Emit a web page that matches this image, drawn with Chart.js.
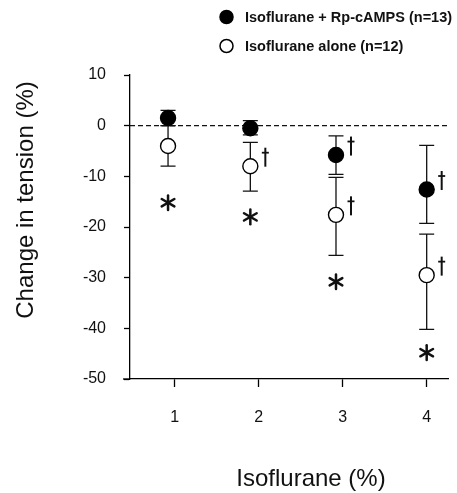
<!DOCTYPE html>
<html>
<head>
<meta charset="utf-8">
<script src="https://cdn.jsdelivr.net/npm/chart.js@4.4.0/dist/chart.umd.min.js"></script>
<style>
    html, body { margin: 0; padding: 0; background: #fff; }
    #wrap { width: 457px; height: 493px; }
</style>
</head>
<body>
<div id="wrap"><canvas id="chart" width="457" height="493"></canvas></div>
<script>
// Isoflurane concentration (%) - x tick labels
const doses = [1, 2, 3, 4];
// where the symbols sit on the original figure (a bit left of the ticks)
const plotX = [0.92, 1.9, 2.92, 4.0];

const seriesLabels = ['Isoflurane + Rp-cAMPS (n=13)', 'Isoflurane alone (n=12)'];

// Isoflurane + Rp-cAMPS: mean, top and bottom of error bar
const rpMean = [1.5, -0.5, -5.8, -12.6];
const rpHigh = [3.0, 1.0, -2.0, -3.9];
const rpLow = [0.0, -1.8, -9.6, -19.3];
const rpDagger = [false, false, true, true];

// Isoflurane alone
const aloneMean = [-4.0, -8.0, -17.6, -29.5];
const aloneHigh = [0.0, -3.3, -10.2, -21.4];
const aloneLow = [-8.0, -12.9, -25.6, -40.2];
const aloneDagger = [false, true, true, true];

// asterisks under each group
const starY = [-15.2, -18.0, -30.8, -44.8];

const yTicks = [10, 0, -10, -20, -30, -40, -50];

const FONT = "'Liberation Sans', Arial, Helvetica, sans-serif";
const INK = '#111';

document.addEventListener('DOMContentLoaded', function() {
    drawChart();
});

function drawErrorBars(ctx, xs, ys, means, highs, lows) {
    const capHalf = 7.5;
    ctx.save();
    ctx.strokeStyle = INK;
    ctx.lineWidth = 1.3;
    means.forEach((m, i) => {
        const x = xs.getPixelForValue(plotX[i]);
        const yHi = ys.getPixelForValue(highs[i]);
        const yLo = ys.getPixelForValue(lows[i]);
        ctx.beginPath();
        ctx.moveTo(x, yHi);
        ctx.lineTo(x, yLo);
        ctx.moveTo(x - capHalf, yHi);
        ctx.lineTo(x + capHalf, yHi);
        ctx.moveTo(x - capHalf, yLo);
        ctx.lineTo(x + capHalf, yLo);
        ctx.stroke();
    });
    ctx.restore();
}

// dagger drawn as a little cross: tall stem, short bar near the top
function drawDagger(ctx, x, y) {
    ctx.save();
    ctx.strokeStyle = INK;
    ctx.lineCap = 'butt';
    ctx.lineWidth = 2;
    ctx.beginPath();
    ctx.moveTo(x, y - 9.5);
    ctx.lineTo(x, y + 9.5);
    ctx.stroke();
    ctx.lineWidth = 1.8;
    ctx.beginPath();
    ctx.moveTo(x - 3.5, y - 4.5);
    ctx.lineTo(x + 3.5, y - 4.5);
    ctx.stroke();
    ctx.restore();
}

function drawDaggers(ctx, xs, ys, means, flags) {
    means.forEach((m, i) => {
        if (!flags[i]) return;
        const x = xs.getPixelForValue(plotX[i]);
        const y = ys.getPixelForValue(m);
        drawDagger(ctx, x + 15, y - 9);
    });
}

function drawStar(ctx, x, y, r) {
    ctx.save();
    ctx.strokeStyle = INK;
    ctx.lineWidth = 2.5;
    ctx.lineCap = 'round';
    [90, 30, 150].forEach(deg => {
        const a = deg * Math.PI / 180;
        ctx.beginPath();
        ctx.moveTo(x - r * Math.cos(a), y - r * Math.sin(a));
        ctx.lineTo(x + r * Math.cos(a), y + r * Math.sin(a));
        ctx.stroke();
    });
    ctx.restore();
}

const figureExtras = {
    id: 'figureExtras',
    beforeDatasetsDraw(chart) {
        const { ctx, chartArea, scales: { x, y } } = chart;
        // dashed zero line
        ctx.save();
        ctx.strokeStyle = INK;
        ctx.lineWidth = 1.2;
        ctx.setLineDash([5, 3]);
        const y0 = y.getPixelForValue(0);
        ctx.beginPath();
        ctx.moveTo(chartArea.left, y0);
        ctx.lineTo(chartArea.right, y0);
        ctx.stroke();
        ctx.restore();

        drawErrorBars(ctx, x, y, aloneMean, aloneHigh, aloneLow);
        drawErrorBars(ctx, x, y, rpMean, rpHigh, rpLow);
    },
    afterDatasetsDraw(chart) {
        const { ctx, scales: { x, y } } = chart;
        drawDaggers(ctx, x, y, rpMean, rpDagger);
        drawDaggers(ctx, x, y, aloneMean, aloneDagger);
        starY.forEach((v, i) => {
            drawStar(ctx, x.getPixelForValue(plotX[i]), y.getPixelForValue(v), 7.3);
        });
    },
    afterDraw(chart) {
        const { ctx, chartArea } = chart;

        // x axis runs a little past the y axis
        ctx.save();
        ctx.strokeStyle = '#000';
        ctx.lineWidth = 1.3;
        ctx.beginPath();
        ctx.moveTo(chartArea.left - 7, chartArea.bottom);
        ctx.lineTo(chartArea.left, chartArea.bottom);
        ctx.stroke();
        ctx.restore();

        // legend
        ctx.save();
        ctx.font = 'bold 14.5px ' + FONT;
        ctx.textBaseline = 'middle';
        ctx.fillStyle = INK;
        const rows = [17, 46];
        seriesLabels.forEach((label, i) => {
            ctx.beginPath();
            ctx.arc(226.5, rows[i], 6.5, 0, Math.PI * 2);
            ctx.fillStyle = i === 0 ? '#000' : '#fff';
            ctx.fill();
            ctx.lineWidth = 1.5;
            ctx.strokeStyle = '#000';
            ctx.stroke();
            ctx.fillStyle = INK;
            ctx.fillText(label, 245, rows[i] + 1);
        });
        ctx.restore();

        // axis titles
        ctx.save();
        ctx.fillStyle = INK;
        ctx.font = '24px ' + FONT;
        ctx.textAlign = 'center';
        ctx.textBaseline = 'alphabetic';
        ctx.fillText('Isoflurane (%)', 311, 486);
        ctx.translate(33, 200);
        ctx.rotate(-Math.PI / 2);
        ctx.fillText('Change in tension (%)', 0, 0);
        ctx.restore();
    }
};

function drawChart() {
    const ctx = document.getElementById('chart').getContext('2d');

    const pointStyle = (fill) => ({
        pointRadius: 7.5,
        pointHoverRadius: 7.5,
        pointBackgroundColor: fill,
        pointBorderColor: '#000',
        pointBorderWidth: 1.4,
        showLine: false
    });

    new Chart(ctx, {
        type: 'scatter',
        data: {
            datasets: [
                Object.assign({
                    label: seriesLabels[0],
                    data: plotX.map((x, i) => ({ x: x, y: rpMean[i] }))
                }, pointStyle('#000')),
                Object.assign({
                    label: seriesLabels[1],
                    data: plotX.map((x, i) => ({ x: x, y: aloneMean[i] }))
                }, pointStyle('#fff'))
            ]
        },
        options: {
            responsive: false,
            animation: false,
            events: [],
            layout: { padding: { top: 75, left: 0, right: 0, bottom: 0 } },
            plugins: {
                legend: { display: false },
                tooltip: { enabled: false }
            },
            scales: {
                x: {
                    type: 'linear',
                    min: 0.467,
                    max: 4.255,
                    afterBuildTicks: scale => { scale.ticks = doses.map(v => ({ value: v })); },
                    afterFit: scale => { scale.height = 114; },
                    grid: { drawOnChartArea: false, tickLength: 8, tickColor: '#000', tickWidth: 1.3 },
                    border: { color: '#000', width: 1.3 },
                    ticks: { padding: 21, color: INK, font: { family: FONT, size: 16 } }
                },
                y: {
                    type: 'linear',
                    min: -50,
                    max: 10,
                    afterBuildTicks: scale => { scale.ticks = yTicks.map(v => ({ value: v })); },
                    afterFit: scale => { scale.width = 130; },
                    grid: { drawOnChartArea: false, tickLength: 6, tickColor: '#000', tickWidth: 1.3 },
                    border: { color: '#000', width: 1.3 },
                    ticks: { padding: 18, color: INK, font: { family: FONT, size: 16 } }
                }
            }
        },
        plugins: [figureExtras]
    });
}
</script>
</body>
</html>
